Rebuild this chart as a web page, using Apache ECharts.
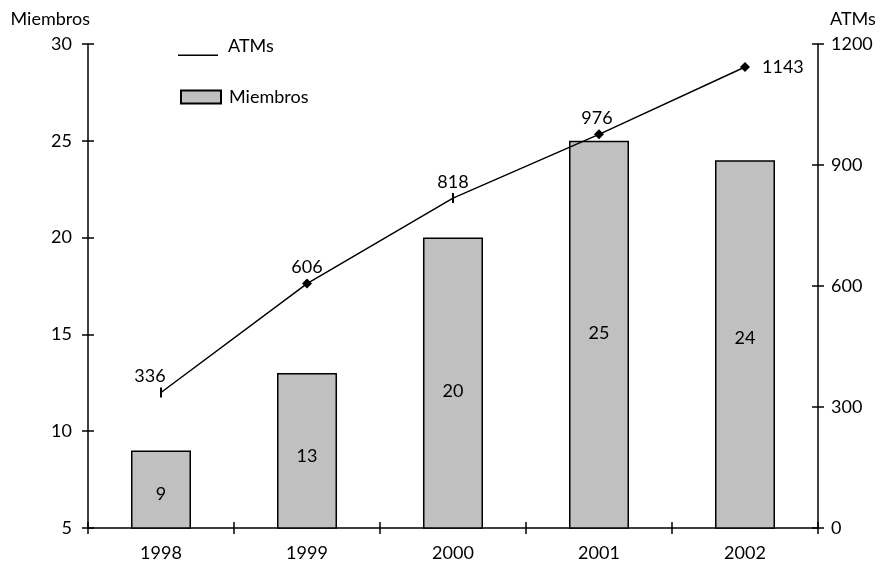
<!DOCTYPE html>
<html><head><meta charset="utf-8">
<script src="https://cdn.jsdelivr.net/npm/echarts@6/dist/echarts.min.js"></script>
<style>html,body{margin:0;padding:0;background:#fff}#c{width:890px;height:572px}</style>
</head><body><div id="c"></div>
<script>
var years = ['1998','1999','2000','2001','2002'];
var miembros = [9, 13, 20, 25, 24];
var atms = [336, 606, 818, 976, 1143];
var leftTicks = {min: 5, max: 30, interval: 5};
var rightTicks = {min: 0, max: 1200, interval: 300};

var FONT = 'Lato';
var markerShapes = ['rect', 'diamond', 'rect', 'diamond', 'diamond'];
var lineLabelPos = [
  {position: 'top', offset: [-11, 2]},
  {position: 'top', offset: [0, 2]},
  {position: 'top', offset: [0, 2]},
  {position: 'top', offset: [-2, 2]},
  {position: 'right', distance: 12}
];
var lineData = atms.map(function (v, i) {
  var isRect = markerShapes[i] === 'rect';
  return {
    value: v,
    symbol: markerShapes[i],
    symbolSize: isRect ? [2, 10] : 10,
    label: lineLabelPos[i]
  };
});
var barLabelOffsets = [[0, 5], [0, 5], [0, 8], [0, -2], [0, -6]];
var barData = miembros.map(function (v, i) {
  return {value: v, label: {offset: barLabelOffsets[i]}};
});

var chart = echarts.init(document.getElementById('c'));
var axisLine = {show: true, lineStyle: {color: '#000', width: 1.5}};
var noComma = function (v) { return String(v); };
chart.setOption({
  animation: false,
  textStyle: {fontFamily: FONT},
  grid: {left: 88, right: 72, top: 44, bottom: 44},
  legend: [{
    left: 178, top: 36, padding: 0, itemWidth: 40, itemHeight: 20, itemGap: 0,
    data: [{name: 'ATMs', icon: 'path://M0,0 L0.01,0 L0.01,0.01 Z M0,18.5 L40,18.5 L40,20 L0,20 Z'}],
    itemStyle: {color: '#000', borderWidth: 0},
    textStyle: {fontFamily: FONT, fontSize: 18, color: '#000', padding: [0, 0, 0, 5]}
  }, {
    left: 180, top: 88, padding: 0, itemWidth: 40, itemHeight: 13,
    data: [{name: 'Miembros', icon: 'rect'}],
    textStyle: {fontFamily: FONT, fontSize: 18, color: '#000', padding: [0, 0, 0, 3]}
  }],
  xAxis: [{
    type: 'category', data: years, boundaryGap: true,
    axisLine: axisLine,
    axisTick: {show: true, length: 6, lineStyle: {color: '#000', width: 1.5}},
    axisLabel: {color: '#000', fontSize: 18, fontFamily: FONT, margin: 16}
  }, {
    type: 'category', data: years, boundaryGap: true, position: 'bottom',
    axisLine: {show: false},
    axisTick: {show: true, inside: true, length: 6, lineStyle: {color: '#000', width: 1.5}},
    axisLabel: {show: false}
  }],
  yAxis: [{
    type: 'value', min: leftTicks.min, max: leftTicks.max, interval: leftTicks.interval,
    position: 'left',
    name: 'Miembros', nameLocation: 'end', nameGap: 16,
    nameTextStyle: {color: '#000', fontSize: 18, fontFamily: FONT, align: 'right', padding: [0, -2, 0, 0]},
    axisLine: axisLine,
    axisTick: {show: true, length: 6, lineStyle: {color: '#000', width: 1.5}},
    axisLabel: {color: '#000', fontSize: 18, fontFamily: FONT, margin: 16, formatter: noComma},
    splitLine: {show: false}
  }, {
    type: 'value', min: rightTicks.min, max: rightTicks.max, interval: rightTicks.interval,
    position: 'right',
    name: 'ATMs', nameLocation: 'end', nameGap: 16,
    nameTextStyle: {color: '#000', fontSize: 18, fontFamily: FONT, align: 'left', padding: [0, 0, 0, 12]},
    axisLine: axisLine,
    axisTick: {show: true, length: 6, lineStyle: {color: '#000', width: 1.5}},
    axisLabel: {color: '#000', fontSize: 18, fontFamily: FONT, margin: 13, formatter: noComma},
    splitLine: {show: false}
  }, {
    type: 'value', min: leftTicks.min, max: leftTicks.max, interval: leftTicks.interval,
    position: 'left',
    axisLine: {show: false},
    axisTick: {show: true, inside: true, length: 6, lineStyle: {color: '#000', width: 1.5}},
    axisLabel: {show: false}, splitLine: {show: false}
  }, {
    type: 'value', min: rightTicks.min, max: rightTicks.max, interval: rightTicks.interval,
    position: 'right',
    axisLine: {show: false},
    axisTick: {show: true, inside: true, length: 6, lineStyle: {color: '#000', width: 1.5}},
    axisLabel: {show: false}, splitLine: {show: false}
  }],
  series: [{
    name: 'Miembros', type: 'bar', data: barData, xAxisIndex: 0, yAxisIndex: 0,
    barWidth: 60,
    itemStyle: {color: '#C0C0C0', borderColor: '#000', borderWidth: 1.5},
    label: {show: true, position: 'inside', color: '#000', fontSize: 18, fontFamily: FONT}
  }, {
    name: 'ATMs', type: 'line', data: lineData, xAxisIndex: 0, yAxisIndex: 1,
    lineStyle: {color: '#000', width: 1.5},
    itemStyle: {color: '#000'},
    label: {show: true, color: '#000', fontSize: 18, fontFamily: FONT, distance: 4}
  }]
});
</script></body></html>
